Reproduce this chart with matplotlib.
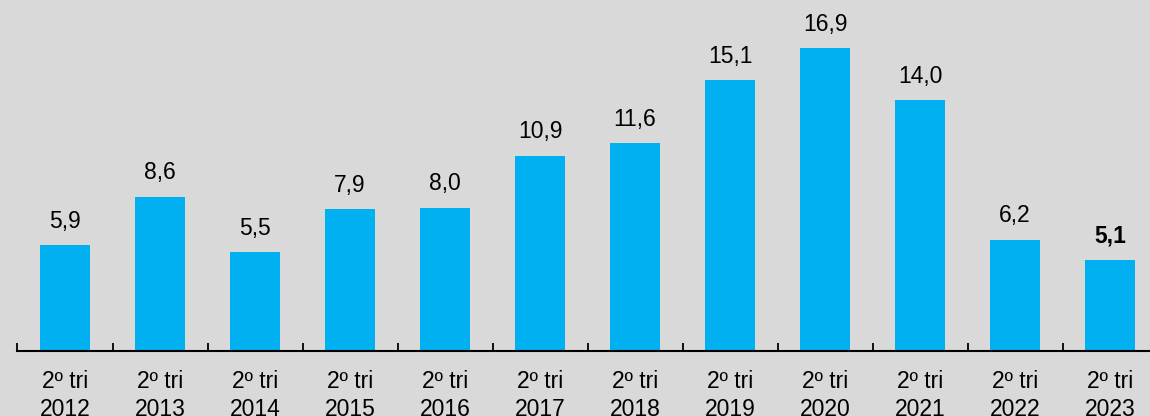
import matplotlib.pyplot as plt
import numpy as np

# Data
years = ['2012', '2013', '2014', '2015', '2016', '2017',
         '2018', '2019', '2020', '2021', '2022', '2023']
values = [5.9, 8.6, 5.5, 7.9, 8.0, 10.9, 11.6, 15.1, 16.9, 14.0, 6.2, 5.1]
labels = ['2º tri\n' + y for y in years]

plt.rcParams['font.family'] = ['Liberation Sans', 'DejaVu Sans']

bg = '#D9D9D9'
bar_color = '#00B0F0'

fig = plt.figure(figsize=(11.5, 4.16), dpi=100, facecolor=bg)
ax = fig.add_axes([0.0148, 0.1563, 0.9852, 0.8437])
ax.set_facecolor(bg)

x = np.arange(len(values))
ax.bar(x, values, width=0.526, color=bar_color, zorder=2)

# Value labels
for i, v in enumerate(values):
    txt = f'{v:.1f}'.replace('.', ',')
    weight = 'bold' if i == len(values) - 1 else 'normal'
    ax.annotate(txt, (i, v), xytext=(0, 9), textcoords='offset points',
                ha='center', va='bottom', fontsize=16.5, fontweight=weight,
                color='#000000')

ax.set_xlim(-0.505, 11.42)
ax.set_ylim(0, 19.58)

# Category boundary ticks
ax.set_xticks(x - 0.5)
ax.set_xticklabels([])
ax.tick_params(axis='x', direction='in', length=6, width=1.3, color='#000000')
ax.set_xticks(x, minor=True)
ax.set_xticklabels(labels, minor=True, fontsize=16.5, linespacing=1.25)
ax.tick_params(axis='x', which='minor', length=0, pad=14)

ax.set_yticks([])
for side in ['top', 'right', 'left']:
    ax.spines[side].set_visible(False)
ax.spines['bottom'].set_linewidth(1.5)

plt.savefig('out.png', dpi=100, facecolor=bg)
